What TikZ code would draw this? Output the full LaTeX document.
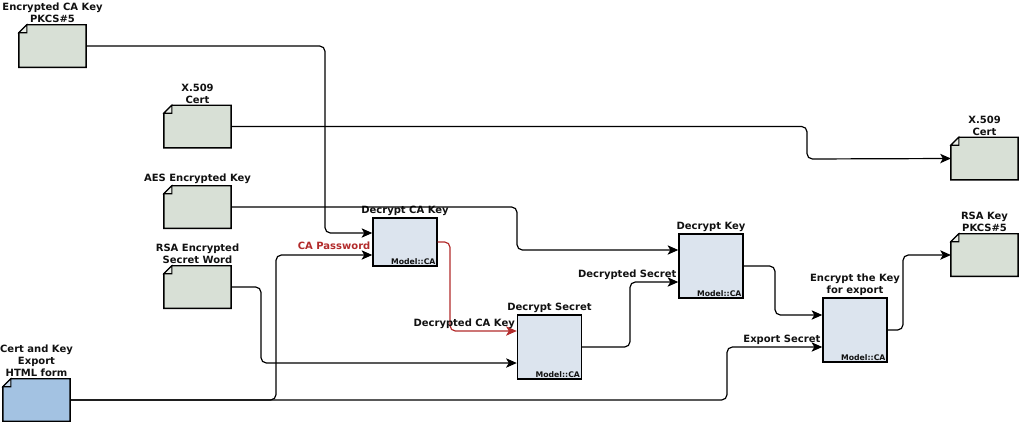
\documentclass[tikz,border=0pt]{standalone}
\usepackage{fontspec}
\setmainfont{DejaVu Sans}
\usepackage{xcolor}
\definecolor{docfill}{HTML}{D8E0D6}
\definecolor{procfill}{HTML}{DCE4EE}
\definecolor{formfill}{HTML}{A3C2E2}
\definecolor{passred}{HTML}{B22B2B}
\definecolor{darktext}{HTML}{111111}
\usetikzlibrary{arrows.meta, positioning}

% document outline with folded corner
\newcommand{\docfold}[2]{%
  \draw[line width=1.1pt, fill=#2] ([yshift=-6pt]#1.north west) -- ([xshift=6pt]#1.north west) -- (#1.north east) -- (#1.south east) -- (#1.south west) -- cycle;
  \draw[line width=0.8pt, fill=#2!55!white] ([yshift=-6pt]#1.north west) -- ([xshift=6pt]#1.north west) -- ([shift={(6pt,-6pt)}]#1.north west) -- cycle;}

\begin{document}
\begin{tikzpicture}[x=0.75pt, y=-0.75pt,
    font=\bfseries\fontsize{7.5}{9}\selectfont, text=darktext,
    doc/.style={rectangle, minimum width=50pt, minimum height=31.5pt, inner sep=0pt},
    proc/.style={rectangle, draw, line width=1.1pt, fill=procfill, minimum width=48pt, minimum height=48pt, inner sep=0pt,
      label={[font=\bfseries\fontsize{5.8}{6}\selectfont, anchor=south east, inner sep=1.5pt]south east:Model::CA}},
    title/.style={align=center, inner sep=1pt},
    link/.style={line width=0.9pt, rounded corners=4pt, -{Stealth[length=8pt, width=7pt, inset=2pt]}},
    endlabel/.style={pos=1, anchor=south east, inner sep=1pt}]
  \useasboundingbox (0,0) rectangle (1023,421);

  % Input documents
  \node[doc, label={[title]above:Encrypted CA Key\\PKCS\#5}] (enckey) at (52.5,46) {};
  \node[doc, label={[title]above:X.509\\Cert}] (x509in) at (197.5,126.5) {};
  \node[doc, label={[title]above:AES Encrypted Key}] (aeskey) at (197.5,207) {};
  \node[doc, label={[title]above:RSA Encrypted\\Secret Word}] (rsasecret) at (197.5,287) {};
  \node[doc, label={[title]above:Cert and Key\\Export\\HTML form}] (htmlform) at (36.5,400) {};

  % Output documents
  \node[doc, label={[title]above:X.509\\Cert}] (x509out) at (984.5,158.5) {};
  \node[doc, label={[title]above:RSA Key\\PKCS\#5}] (rsaout) at (984.5,255) {};

  \docfold{enckey}{docfill}
  \docfold{x509in}{docfill}
  \docfold{aeskey}{docfill}
  \docfold{rsasecret}{docfill}
  \docfold{htmlform}{formfill}
  \docfold{x509out}{docfill}
  \docfold{rsaout}{docfill}

  % Processes
  \node[proc, minimum height=36pt, label={[title]above:Decrypt CA Key}] (decca) at (405,242) {};
  \node[proc, label={[title]above:Decrypt Secret}] (decsec) at (549.5,347) {};
  \node[proc, label={[title]above:Decrypt Key}] (deckey) at (711,266) {};
  \node[proc, label={[title]above:Encrypt the Key\\for export}] (enckeyexp) at (855,330) {};

  % Connectors
  \draw[link] (enckey.east) -| (325,233) -- (decca.west |- 0,233);
  \draw[link] (x509in.east) -| (807,159) -- (x509out.west);
  \draw[link] (aeskey.east) -| (517,250) -- (deckey.west |- 0,250);
  \draw[link] (rsasecret.east) -| (261,363) -- (decsec.west |- 0,363);
  \draw[link] (htmlform.east) -| (276,255) -- (decca.west |- 0,255) node[endlabel, text=passred, yshift=2.5pt] {CA Password};
  \draw[link] (htmlform.east) -| (727,347) -- (enckeyexp.west |- 0,347) node[endlabel] {Export Secret};
  \draw[link, passred] (decca.east) -| (450,331) -- (decsec.west |- 0,331) node[endlabel, text=darktext] {Decrypted CA Key};
  \draw[link] (decsec.east) -| (630,282) -- (deckey.west |- 0,282) node[endlabel] {Decrypted Secret};
  \draw[link] (deckey.east) -| (775,315) -- (enckeyexp.west |- 0,315);
  \draw[link] (enckeyexp.east) -| (903,255) -- (rsaout.west);
\end{tikzpicture}
\end{document}
